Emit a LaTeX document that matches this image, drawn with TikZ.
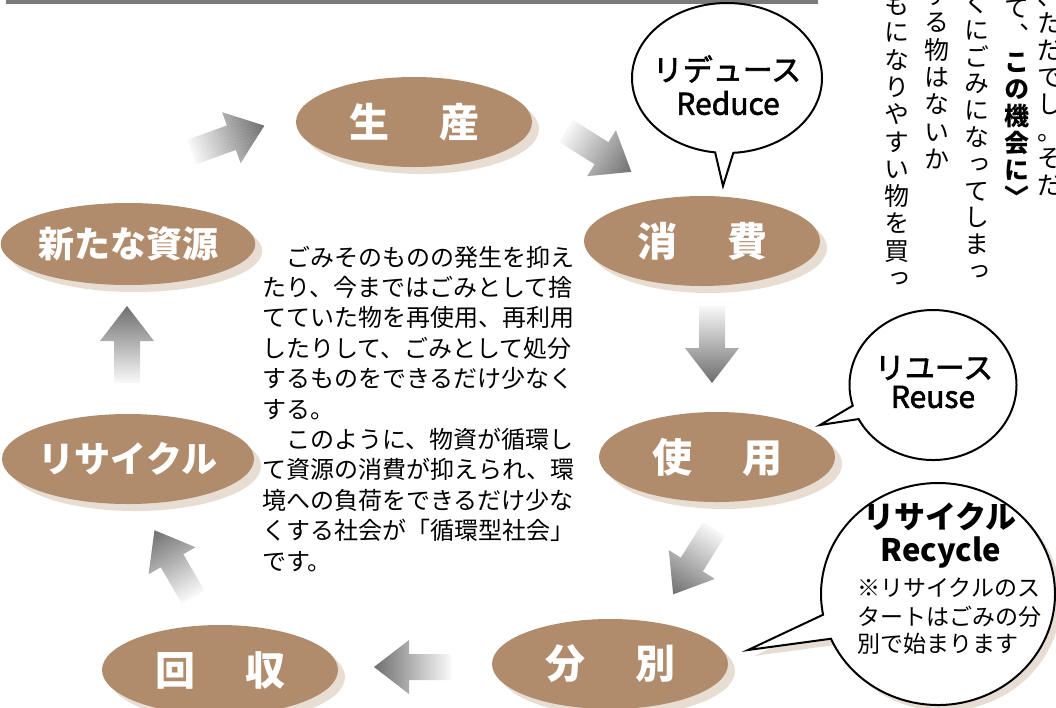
\documentclass[tikz,border=0pt]{standalone}
\usepackage{fontspec}
\setmainfont{Noto Sans CJK JP}
\newfontfamily\jpv[RawFeature=+vert]{Noto Sans CJK JP}
\newfontfamily\jph{Noto Sans CJK JP}
\newfontfamily\jpm[FakeBold=2]{Noto Sans CJK JP}
\usetikzlibrary{shapes.geometric,shapes.callouts,shadows}
\definecolor{brownfill}{HTML}{B08C6C}
\definecolor{shtan}{HTML}{E8DDD2}
\definecolor{bargray}{HTML}{7A7A7A}
\newcommand\wgap{\hspace{1.25em}}
\newcommand\garrow[2]{%
  \begin{scope}[shift={(#1)}, rotate=#2]
    \clip (0,-13) -- (42,-13) -- (42,-27) -- (77,0) -- (42,27) -- (42,13) -- (0,13) -- cycle;
    \foreach \k in {0,...,38} {
      \pgfmathsetmacro\sh{3+54*\k/38}
      \fill[black!\sh] (2*\k,-30) rectangle (2*\k+2.2,30);
    }
  \end{scope}}
\newcommand\vcolumn[6]{% name, x, y0, pitch, font, list
  \foreach \ch [count=\i from 0] in {#6} {
    \node[vch, font=#5\fontsize{25}{25}\selectfont] (#1-\i) at (#2, #3+#4*\i) {\ch};
  }}
\tikzset{
  stage/.style={ellipse, fill=brownfill, minimum width=236pt, minimum height=90pt,
    inner sep=0pt, text=white, font=\bfseries\fontsize{40}{40}\selectfont,
    drop shadow={shadow xshift=7pt, shadow yshift=-7pt, fill=shtan, opacity=1}},
  bubble/.style={ellipse callout, draw=black, line width=2pt, fill=white, inner sep=0pt},
  btext/.style={inner sep=0pt, font=\jpm\fontsize{30}{30}\selectfont},
  para/.style={anchor=base west, inner sep=0pt, font=\fontsize{24}{30}\selectfont},
  vch/.style={inner sep=0pt, text height=22pt, text depth=3pt},
  small/.style={anchor=west, inner sep=0pt, font=\fontsize{23}{23}\selectfont}
}
\begin{document}
\begin{tikzpicture}[x=1pt,y=-1pt]
\useasboundingbox (0,0) rectangle (1056,707);
\clip (0,0) rectangle (1056,707);
\fill[bargray] (6,0) rectangle (818,3.5);

% vertical text (top right)
\vcolumn{c1}{1050}{-4}{27}{\jph}{、,た,だ,で,し,。,そ,だ}
\vcolumn{c2}{1017}{8}{27}{\jpv}{て,、,{\bfseries こ},{\bfseries の},{\bfseries 機},{\bfseries 会},{\bfseries に},{\bfseries 〉}}
\vcolumn{c3}{977}{3}{26.8}{\jpv}{く,に,ご,み,に,な,っ,て,し,ま,っ}
\vcolumn{c4}{937}{-5}{27.3}{\jpv}{す,る,物,は,な,い,か}
\vcolumn{c5}{897}{5}{27.3}{\jpv}{も,に,な,り,や,す,い,物,を,買,っ}

% stages
\node[stage] (seisan) at (414,122) {生\wgap 産};
\node[stage] (shohi) at (702,241) {消\wgap 費};
\node[stage] (shiyo) at (717,457) {使\wgap 用};
\node[stage] (bunbetsu) at (610,664) {分\wgap 別};
\node[stage] (kaishu) at (220,670) {回\wgap 収};
\node[stage, font=\bfseries\fontsize{36}{36}\selectfont] (recycle) at (128,459) {リサイクル};
\node[stage, minimum height=82pt, font=\bfseries\fontsize{36}{36}\selectfont] (shigen) at (128,244) {新たな資源};

% arrows
\coordinate (a1) at (192,152);
\coordinate (a2) at (566,131);
\coordinate (a3) at (712,306);
\coordinate (a4) at (714,529);
\coordinate (a5) at (451,667);
\coordinate (a6) at (193,597);
\coordinate (a7) at (127,383);
\garrow{a1}{20}
\garrow{a2}{-32}
\garrow{a3}{-90}
\garrow{a4}{-122}
\garrow{a5}{180}
\garrow{a6}{120}
\garrow{a7}{90}

% paragraph
\foreach \t [count=\i from 0] in {　ごみそのものの発生を抑え,たり、今まではごみとして捨,てていた物を再使用、再利用,したりして、ごみとして処分,するものをできるだけ少なく,する。,　このように、物資が循環し,て資源の消費が抑えられ、環,境への負荷をできるだけ少な,くする社会が「循環型社会」,です。}{
  \node[para] (p\i) at (262, 266+30.4*\i) {\t};
}

% bubbles
\node[bubble, minimum width=190pt, minimum height=150pt,
  callout absolute pointer={(723,186)}, callout pointer arc=11] (reduce) at (727,78) {};
\node[btext] (reduce-jp) at (727,69) {リデュース};
\node[btext] (reduce-en) at (728,103) {Reduce};

\node[bubble, minimum width=167pt, minimum height=150pt,
  callout absolute pointer={(820,425)}, callout pointer arc=11] (reuse) at (933,385) {};
\node[btext] (reuse-jp) at (934,368) {リユース};
\node[btext] (reuse-en) at (933,397) {Reuse};

\node[bubble, minimum width=234pt, minimum height=222pt,
  callout absolute pointer={(748,650)}, callout pointer arc=13,
  drop shadow={shadow xshift=6pt, shadow yshift=-6pt, fill=shtan, opacity=1}] (recyc) at (938,594) {};
\node[btext, font=\bfseries\fontsize{31}{31}\selectfont] (recyc-jp) at (940,517) {リサイクル};
\node[btext, font=\bfseries\fontsize{31}{31}\selectfont] (recyc-en) at (941,552) {Recycle};
\node[small] (r1) at (857,588) {※リサイクルのス};
\node[small] (r2) at (857,617) {タートはごみの分};
\node[small] (r3) at (857,644) {別で始まります};
\end{tikzpicture}
\end{document}
